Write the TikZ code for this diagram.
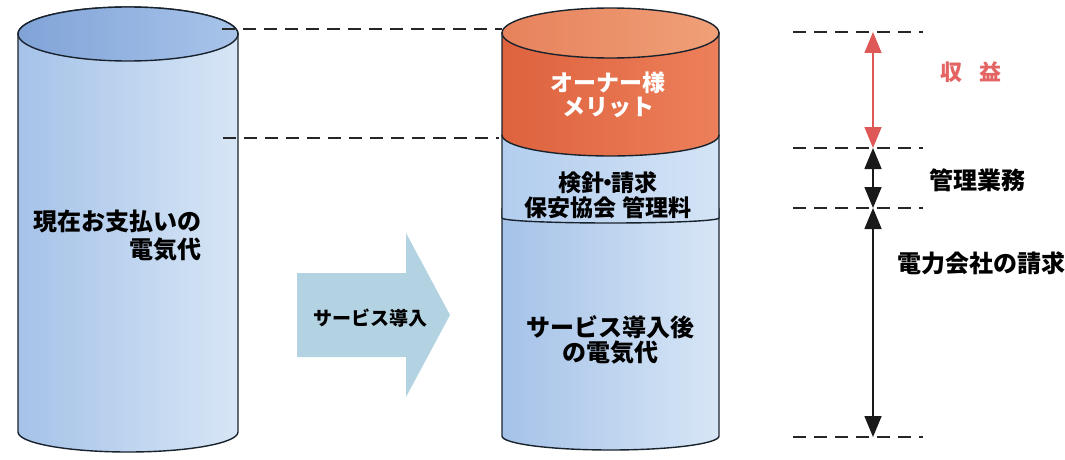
\documentclass[tikz,border=0pt]{standalone}
\usepackage{fontspec}
\newfontfamily\jp{Noto Sans CJK JP}
\usetikzlibrary{arrows.meta}
\definecolor{outl}{RGB}{25,35,45}
\definecolor{cylL}{RGB}{165,194,232}
\definecolor{cylR}{RGB}{215,230,246}
\definecolor{topL}{RGB}{128,163,215}
\definecolor{topR}{RGB}{168,196,234}
\definecolor{midL}{RGB}{178,205,238}
\definecolor{midR}{RGB}{212,228,246}
\definecolor{orL}{RGB}{222,98,62}
\definecolor{orR}{RGB}{236,128,90}
\definecolor{ortopL}{RGB}{230,130,92}
\definecolor{ortopR}{RGB}{240,160,120}
\definecolor{arrfill}{RGB}{180,211,226}
\definecolor{redarr}{RGB}{222,88,88}
\definecolor{redtxt}{RGB}{228,100,100}
\tikzset{
  cylline/.style={draw=outl, line width=1.4pt},
  guide/.style={draw=black!85, line width=1.8pt, dash pattern=on 13pt off 8pt},
  dimarrow/.style={line width=1.6pt, {Triangle[width=17pt,length=21pt]}-{Triangle[width=17pt,length=21pt]}},
  lbl/.style={font=\jp\bfseries\fontsize{23}{26}\selectfont, inner sep=0pt, align=center},
}
\begin{document}
\begin{tikzpicture}[x=1pt,y=1pt]
\useasboundingbox (0,0) rectangle (1065,459);
\fill[white] (0,0) rectangle (1065,459);

% ---------- left cylinder ----------
\path[cylline, left color=cylL, right color=cylR]
  (18,425) -- (18,27) arc[start angle=180,end angle=360,x radius=110,y radius=20]
  -- (238,425) arc[start angle=0,end angle=180,x radius=110,y radius=27] -- cycle;
\path[cylline, left color=topL, right color=topR]
  (128,425) ellipse[x radius=110,y radius=27];

% ---------- right cylinder ----------
\path[cylline, left color=cylL, right color=cylR]
  (502,250) -- (502,23) arc[start angle=180,end angle=360,x radius=108.5,y radius=14]
  -- (719,250) -- cycle;
\path[cylline, left color=midL, right color=midR]
  (502,324) -- (502,241) arc[start angle=180,end angle=360,x radius=108.5,y radius=5]
  -- (719,324) -- cycle;
\path[cylline, left color=orL, right color=orR]
  (502,426) -- (502,324) arc[start angle=180,end angle=360,x radius=108.5,y radius=21]
  -- (719,426) -- cycle;
\path[cylline, left color=ortopL, right color=ortopR]
  (610.5,426) ellipse[x radius=108.5,y radius=25];

% ---------- arrow ----------
\path[fill=arrfill] (297,186) -- (406,186) -- (406,226) -- (450,144)
  -- (406,62) -- (406,102) -- (297,102) -- cycle;
\node[lbl, font=\jp\bfseries\fontsize{19}{22}\selectfont] (svc) at (370,141) {サービス導入};

% ---------- texts ----------
\node[lbl, align=right, anchor=east, font=\jp\bfseries\fontsize{24}{28}\selectfont] (now) at (202,223) {現在お支払いの\\電気代};
\node[lbl, text=white, font=\jp\bfseries\fontsize{23}{24}\selectfont] (owner) at (608,364) {オーナー様\\メリット};
\node[lbl, font=\jp\bfseries\fontsize{23}{25}\selectfont] (mgmt) at (608,264) {検針\hspace{-0.35em}・\hspace{-0.35em}請求\\保安協会 管理料};
\node[lbl, font=\jp\bfseries\fontsize{24}{25}\selectfont] (after) at (610,119) {サービス導入後\\の電気代};

% ---------- dashed guides ----------
\coordinate (gA1) at (222,430); \coordinate (gA2) at (502,430);
\coordinate (gB1) at (223,321); \coordinate (gB2) at (499,321);
\draw[guide] (gA1) -- (gA2);
\draw[guide] (gB1) -- (gB2);

\coordinate (r1a) at (793,427); \coordinate (r1b) at (923,427);
\coordinate (r2a) at (793,311); \coordinate (r2b) at (923,311);
\coordinate (r3a) at (793,251); \coordinate (r3b) at (923,251);
\coordinate (r4a) at (793,22);  \coordinate (r4b) at (923,22);
\draw[guide] (r1a) -- (r1b);
\draw[guide] (r2a) -- (r2b);
\draw[guide] (r3a) -- (r3b);
\draw[guide] (r4a) -- (r4b);

\coordinate (p1) at (873,427);
\coordinate (p2) at (873,311);
\coordinate (p3) at (873,251);
\coordinate (p4) at (873,22);
\draw[dimarrow, draw=redarr, fill=redarr] (p1) -- (p2);
\draw[dimarrow, draw=black!90, fill=black!90] (p2) -- (p3);
\draw[dimarrow, draw=black!90, fill=black!90] (p3) -- (p4);

\node[lbl, text=redtxt, font=\jp\bfseries\fontsize{22}{24}\selectfont] (rev) at (971,387) {収\hspace{0.8em}益};
\node[lbl, font=\jp\bfseries\fontsize{24}{26}\selectfont] (kanri) at (977,279) {管理業務};
\node[lbl, font=\jp\bfseries\fontsize{24}{26}\selectfont] (denryoku) at (981,196) {電力会社の請求};
\end{tikzpicture}
\end{document}
